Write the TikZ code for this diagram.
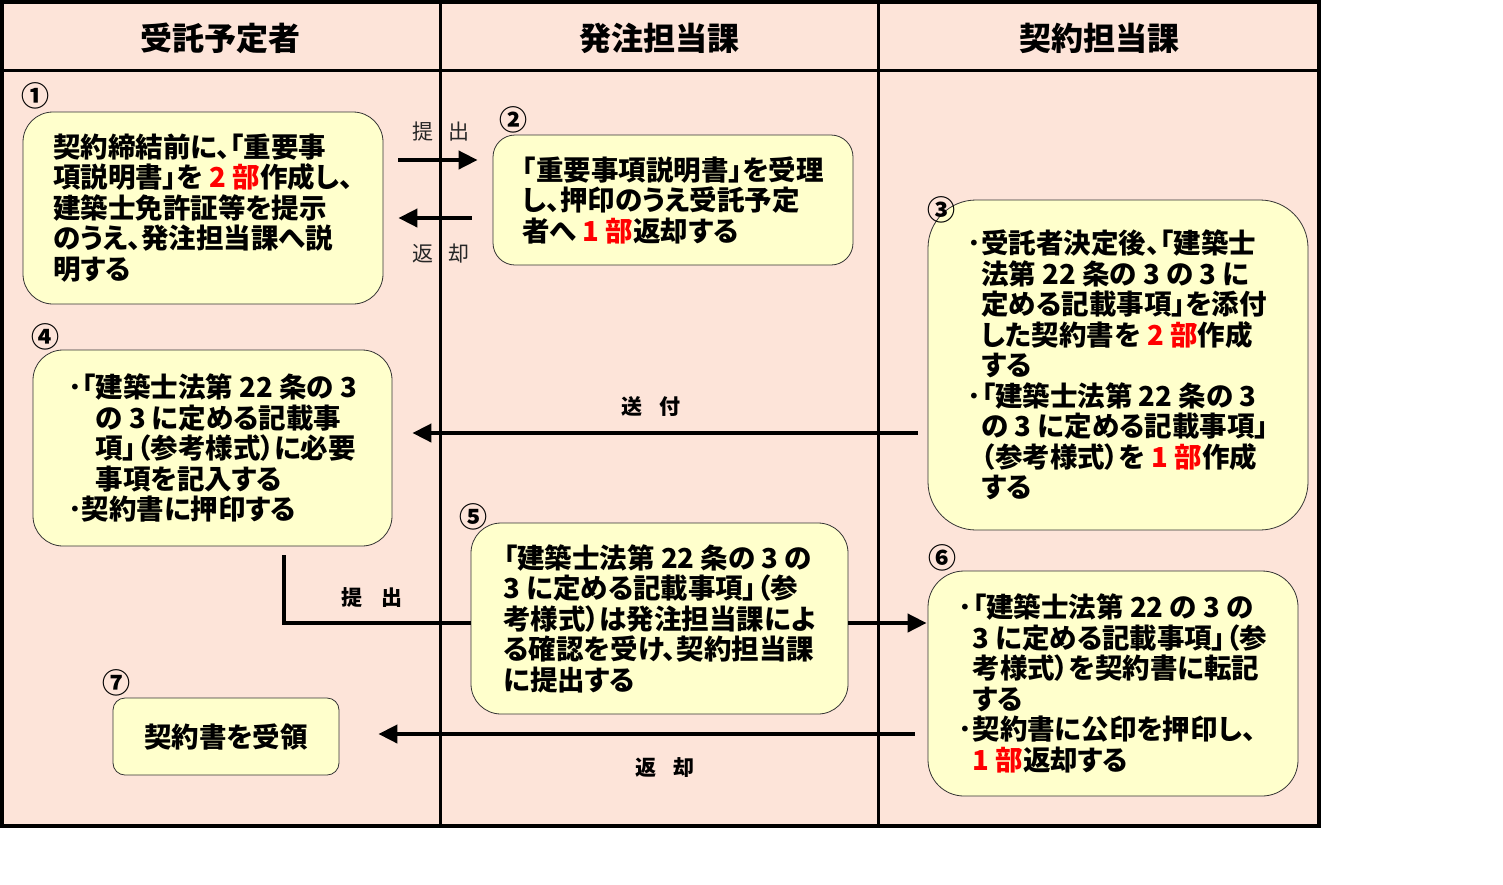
\documentclass[tikz,border=0pt]{standalone}
\usepackage{fontspec}
\setmainfont{Noto Sans CJK JP}[RawFeature=+palt]
\usetikzlibrary{arrows.meta,calc}
\definecolor{bgpink}{HTML}{FDE4D9}
\definecolor{boxy}{HTML}{FFFFCC}
\definecolor{redtxt}{HTML}{FF0000}
\newcommand\rd[1]{\textcolor{redtxt}{#1}}
\newcommand\bul{\makebox[0.5em][l]{･}}
\newcommand\indA{\hspace*{0.5em}}
\newcommand\indB{\hspace*{1em}}
\begin{document}
\begin{tikzpicture}[x=1pt,y=-1pt,
  box/.style={draw=black!80, line width=0.8pt, fill=boxy, align=left, inner sep=0pt,
    font=\fontsize{27.5}{30.5}\selectfont\bfseries},
  head/.style={font=\fontsize{32}{32}\selectfont\bfseries},
  num/.style={font=\fontsize{28}{28}\selectfont\bfseries, inner sep=0pt},
  lab/.style={font=\fontsize{21}{21}\selectfont\bfseries, inner sep=0pt},
  labl/.style={font=\fontsize{21}{21}\selectfont, text=black!85, inner sep=0pt},
  arr/.style={line width=4pt, -{Triangle[length=19pt,width=18pt]}},
  ln/.style={line width=4pt}
]
\useasboundingbox (0,0) rectangle (1503,884);
% frame
\fill[bgpink] (2,2) rectangle (1319,826);
\draw[line width=3pt] (2,70) -- (1319,70);
\draw[line width=3pt] (440,2) -- (440,826);
\draw[line width=3pt] (878,2) -- (878,826);
\draw[line width=4pt] (2,2) rectangle (1319,826);
% headers
\node[head] (h1) at (220,38) {受託予定者};
\node[head] (h2) at (659,38) {発注担当課};
\node[head] (h3) at (1099,38) {契約担当課};
% boxes
\node[box, rounded corners=30pt, minimum width=360pt, minimum height=192pt] (n1) at (203,208)
  {契約締結前に、「重要事\\項説明書」を \rd{2 部}作成し、\\建築士免許証等を提示\\のうえ、発注担当課へ説\\明する};
\node[box, rounded corners=22pt, minimum width=360pt, minimum height=130pt] (n2) at (673,200)
  {「重要事項説明書」を受理\\し、押印のうえ受託予定\\者へ \rd{1 部}返却する};
\node[box, rounded corners=48pt, minimum width=380pt, minimum height=330pt] (n3) at (1118,365)
  {\bul 受託者決定後、「建築士\\\indA 法第 22 条の 3 の 3 に\\\indA 定める記載事項」を添付\\\indA した契約書を \rd{2 部}作成\\\indA する\\\bul 「建築士法第 22 条の 3\\\indA の 3 に定める記載事項」\\\indA （参考様式）を \rd{1 部}作成\\\indA する};
\node[box, rounded corners=30pt, minimum width=359pt, minimum height=196pt] (n4) at (212.5,448)
  {\bul 「建築士法第 22 条の 3\\\indB の 3 に定める記載事\\\indB 項」（参考様式）に必要\\\indB 事項を記入する\\\bul 契約書に押印する};
\node[box, rounded corners=30pt, minimum width=377pt, minimum height=191pt] (n5) at (659.5,618.5)
  {「建築士法第 22 条の 3 の\\3 に定める記載事項」（参\\考様式）は発注担当課によ\\る確認を受け、契約担当課\\に提出する};
\node[box, rounded corners=36pt, minimum width=370pt, minimum height=225pt] (n6) at (1113,683.5)
  {\bul 「建築士法第 22 の 3 の\\\indA 3 に定める記載事項」（参\\\indA 考様式）を契約書に転記\\\indA する\\\bul 契約書に公印を押印し、\\\indA \rd{1 部}返却する};
\node[box, rounded corners=12pt, minimum width=226pt, minimum height=77pt, align=center] (n7) at (226,736.5)
  {契約書を受領};
% numbers
\node[num] (c1) at (35,96) {①};
\node[num] (c2) at (513,120) {②};
\node[num] (c3) at (941,210) {③};
\node[num] (c4) at (45,337) {④};
\node[num] (c5) at (473,517) {⑤};
\node[num] (c6) at (942,558) {⑥};
\node[num] (c7) at (116,683) {⑦};
% connector coordinates
\coordinate (ya) at (0,160);
\coordinate (yb) at (0,218);
\coordinate (yc) at (0,433);
\coordinate (yd) at (0,623);
\coordinate (ye) at (0,734);
\coordinate (p1) at (284,555);
% arrows
\draw[arr, shorten <=15pt, shorten >=15pt] (n1.east |- ya) -- (n2.west |- ya);
\draw[arr, shorten <=21pt, shorten >=15pt] (n2.west |- yb) -- (n1.east |- yb);
\draw[arr, shorten <=10pt, shorten >=20pt] (n3.west |- yc) -- (n4.east |- yc);
\draw[ln] (p1) |- (n5.west |- yd);
\draw[arr, shorten >=1pt] (n5.east |- yd) -- (n6.west |- yd);
\draw[arr, shorten <=13pt, shorten >=39pt] (n6.west |- ye) -- (n7.east |- ye);
% labels
\node[labl] (l1) at (441,132) {提\hspace{15pt}出};
\node[labl] (l2) at (441,254) {返\hspace{15pt}却};
\node[lab] (l3) at (651,407) {送\hspace{17pt}付};
\node[lab] (l4) at (372,598) {提\hspace{19pt}出};
\node[lab] (l5) at (665,768) {返\hspace{17pt}却};
\end{tikzpicture}
\end{document}
